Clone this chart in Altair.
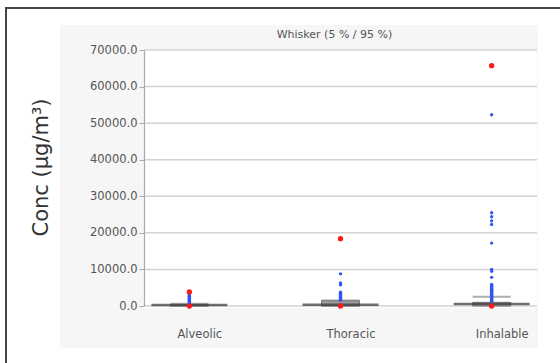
import altair as alt
import pandas as pd

categories = ["Alveolic", "Thoracic", "Inhalable"]
p5 = [20, 0, 50]
q1 = [50, 0, 100]
median = [300, 350, 550]
q3 = [350, 1500, 1000]
p95 = [600, 1500, 2500]
minimum = [0, 0, 0]
maximum = [3850, 18400, 65700]

outliers_alveolic = [700, 900, 1100, 1300, 1500, 1700, 1900, 2100, 2300, 2500, 2700, 2900, 3100]
outliers_thoracic = [1600, 1800, 2000, 2200, 2400, 2600, 2800, 3000, 3200, 3400, 3600, 3800,
                     5800, 6300, 8800]
outliers_inhalable = [1200, 1400, 1600, 1800, 2000, 2200, 2400, 2600, 2800, 3000, 3200, 3400,
                      3600, 3800, 4000, 4200, 4400, 4600, 4800, 5000, 5200, 5400, 5600, 5900,
                      7850, 9500, 10000, 17200, 22300, 23300, 24400, 25500, 52300]

y_ticks = [0, 10000, 20000, 30000, 40000, 50000, 60000, 70000]

summary = pd.DataFrame({
    "category": categories, "p5": p5, "q1": q1, "median": median,
    "q3": q3, "p95": p95,
})
extremes = pd.DataFrame({
    "category": categories * 2,
    "value": minimum + maximum,
})
outl = pd.DataFrame({
    "category": ["Alveolic"] * len(outliers_alveolic)
    + ["Thoracic"] * len(outliers_thoracic)
    + ["Inhalable"] * len(outliers_inhalable),
    "value": outliers_alveolic + outliers_thoracic + outliers_inhalable,
})
grid = pd.DataFrame({"value": y_ticks})
one = pd.DataFrame({"a": [0]})

W, H = 393, 256
FONT = "DejaVu Sans"

x_scale = alt.Scale(type="point", padding=0.3, domain=categories)
x_axis = alt.Axis(title=None, domain=False, ticks=False, grid=False, labelPadding=22,
                  labelFont=FONT, labelFontSize=11.5, labelColor="#555", labelAngle=0,
                  labelOffset=10, zindex=1)
y_scale = alt.Scale(domain=[0, 70000], nice=False, zero=True)
y_axis = alt.Axis(values=y_ticks, format=".1f", grid=False, domain=True, domainColor="#aaa",
                  domainWidth=1.2, tickColor="#aaa", tickSize=5, labelPadding=2,
                  labelFont=FONT, labelFontSize=11.5, labelColor="#555",
                  title="Conc (µg/m³)", titleFont=FONT, titleFontSize=21,
                  titleFontWeight="normal", titleColor="#333", titleX=-103, titleY=117,
                  titleAngle=270, titleAlign="center", titleBaseline="middle", zindex=1)

X = alt.X("category:N", scale=x_scale, axis=x_axis, sort=categories)

frame = alt.Chart(one).mark_rect(fill="white", stroke="#444", strokeWidth=2).encode(
    x=alt.value(-138), x2=alt.value(440), y=alt.value(-42), y2=alt.value(340))
panel = alt.Chart(one).mark_rect(fill="#f6f6f6").encode(
    x=alt.value(-84), x2=alt.value(394), y=alt.value(-25), y2=alt.value(298))
plotbg = alt.Chart(one).mark_rect(fill="white").encode(
    x=alt.value(0), x2=alt.value(W), y=alt.value(0), y2=alt.value(H + 2))

gridlines = alt.Chart(grid).mark_rule(color="#d2d2d2", strokeWidth=1.5).encode(
    y=alt.Y("value:Q", scale=y_scale, axis=y_axis),
    x=alt.value(0), x2=alt.value(W))

base = alt.Chart(summary)
box = base.mark_bar(size=38, color="#9a9a9a", stroke="#777", strokeWidth=1).encode(
    x=X, y=alt.Y("q1:Q", scale=y_scale, axis=y_axis), y2="q3:Q")
upper = base.mark_tick(size=38, thickness=2, color="#8a8a8a", orient="horizontal").encode(
    x=X, y=alt.Y("p95:Q", scale=y_scale, axis=y_axis))
lower = base.mark_tick(size=38, thickness=2, color="#8a8a8a", orient="horizontal").encode(
    x=X, y=alt.Y("p5:Q", scale=y_scale, axis=y_axis))
med = base.mark_tick(size=76, thickness=2.5, color="#333", orient="horizontal").encode(
    x=X, y=alt.Y("median:Q", scale=y_scale, axis=y_axis))

out_pts = alt.Chart(outl).mark_circle(size=11, color="#2f55f5", opacity=1).encode(
    x=X, y=alt.Y("value:Q", scale=y_scale, axis=y_axis))
ext_pts = alt.Chart(extremes).mark_circle(size=28, color="#ff1a1a", opacity=1).encode(
    x=X, y=alt.Y("value:Q", scale=y_scale, axis=y_axis))

chart = alt.layer(frame, panel, plotbg, gridlines, box, lower, upper, med, out_pts, ext_pts).properties(
    width=W, height=H,
    title=alt.TitleParams("Whisker (5 % / 95 %)", font=FONT, fontSize=11, fontWeight="normal",
                          color="#555", offset=10, dx=-6, dy=43, frame="group", zindex=1),
    autosize=alt.AutoSizeParams(type="none"),
    padding={"left": 144, "top": 50, "right": 23, "bottom": 57},
    background="white",
).configure_view(stroke=None)

chart.save("out.html", embed_options={"renderer": "svg", "actions": False})
